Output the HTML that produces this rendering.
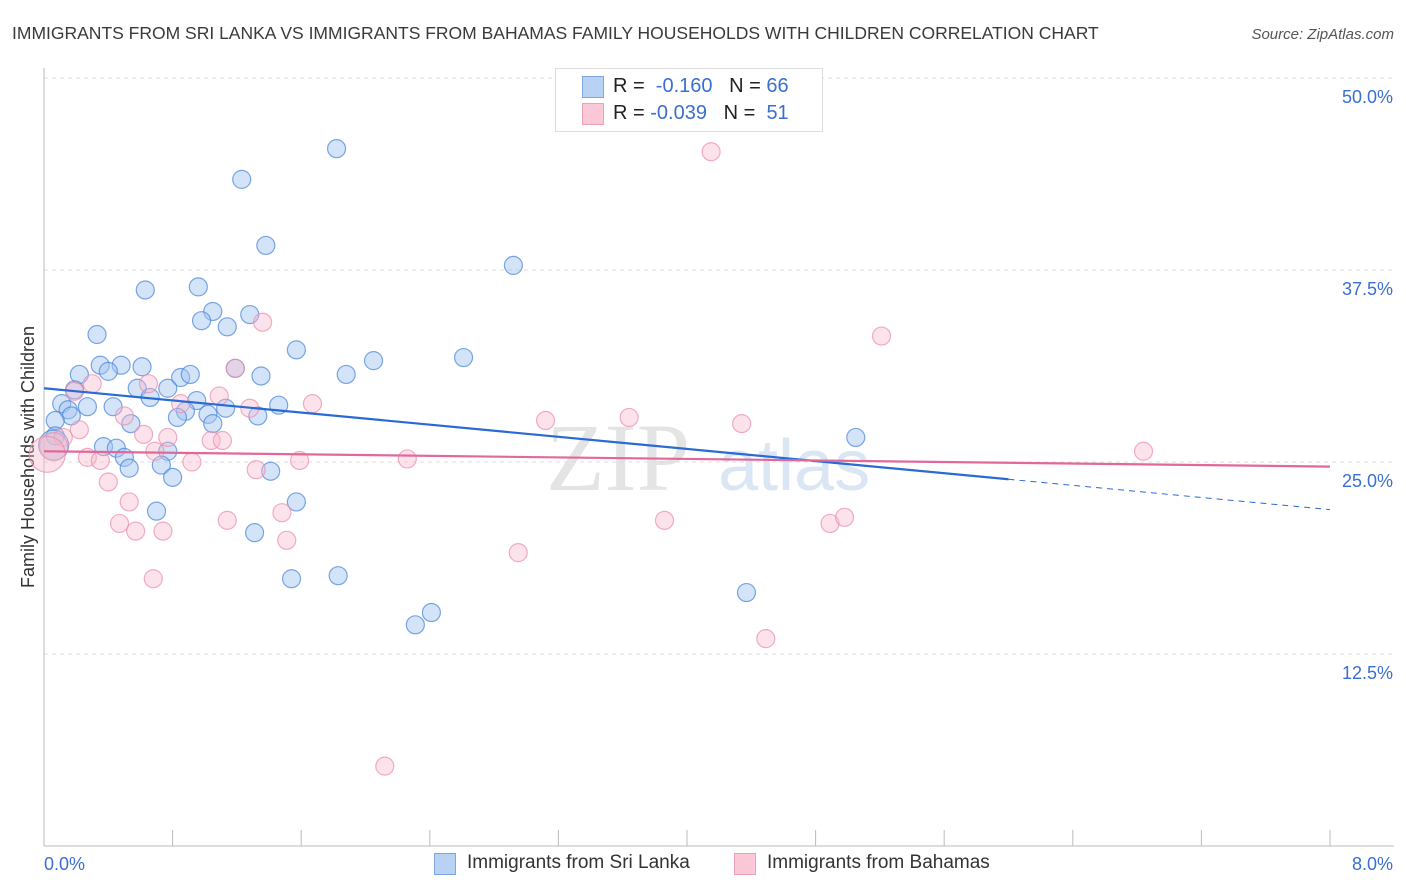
<!DOCTYPE html>
<html><head><meta charset="utf-8">
<style>
body{margin:0;background:#fff;font-family:"Liberation Sans",sans-serif;}
#wrap{position:relative;width:1406px;height:892px;overflow:hidden;}
</style></head>
<body>
<div id="wrap">
<svg id="chart" width="1406" height="892" xmlns="http://www.w3.org/2000/svg">
<text x="12" y="39" font-size="17.5" fill="#3a3a3a">IMMIGRANTS FROM SRI LANKA VS IMMIGRANTS FROM BAHAMAS FAMILY HOUSEHOLDS WITH CHILDREN CORRELATION CHART</text>
<text x="1394" y="39" font-size="15" fill="#555" font-style="italic" text-anchor="end">Source: ZipAtlas.com</text>
<text transform="translate(34,457) rotate(-90)" font-size="18" fill="#333" text-anchor="middle">Family Households with Children</text>
<text x="690" y="490" font-size="96" fill="#e4e4e4" font-family="Liberation Serif,serif" text-anchor="end">ZIP</text>
<text x="718" y="490" font-size="72" fill="#dbe6f5">atlas</text>
<g id="grid"></g><g id="axes"></g><g id="pts"></g><g id="lines"></g>
</svg>
<div style="position:absolute;left:555px;top:68px;width:266px;height:62px;border:1px solid #ddd;background:#fff;font-size:20px;">
 <div style="position:absolute;left:26px;top:7px;width:20px;height:20px;background:#b8d2f4;border:1px solid #7ea6e0"></div>
 <div style="position:absolute;left:57px;top:6px;color:#222">R = &nbsp;<span style="color:#3a6fd1">-0.160</span> &nbsp;&nbsp;N = <span style="color:#3a6fd1">66</span></div>
 <div style="position:absolute;left:26px;top:34px;width:20px;height:20px;background:#fac8d6;border:1px solid #eea0b8"></div>
 <div style="position:absolute;left:57px;top:33px;color:#222">R = <span style="color:#3a6fd1">-0.039</span> &nbsp;&nbsp;N = &nbsp;<span style="color:#3a6fd1">51</span></div>
</div>
<div style="position:absolute;left:434px;top:853px;width:20px;height:20px;background:#b8d2f4;border:1px solid #7ea6e0"></div>
<div style="position:absolute;left:467px;top:852px;font-size:19px;color:#333">Immigrants from Sri Lanka</div>
<div style="position:absolute;left:734px;top:853px;width:20px;height:20px;background:#fac8d6;border:1px solid #eea0b8"></div>
<div style="position:absolute;left:767px;top:852px;font-size:19px;color:#333">Immigrants from Bahamas</div>
</div>
<script>
const yTicks=[12.5,25,37.5,50];
const yTickLabels=["12.5%","25.0%","37.5%","50.0%"];
const xTickLabels=["0.0%","8.0%"];
const blueX=[1.82,1.23,1.38,2.92,0.63,0.96,1.05,0.98,1.14,1.28,0.33,1.57,2.05,2.61,0.35,0.48,0.61,0.40,0.22,0.85,0.91,1.19,1.35,1.88,0.58,0.77,0.66,0.19,0.11,0.15,0.27,0.43,0.95,0.88,1.02,1.13,1.46,1.33,0.83,1.05,0.54,0.17,0.07,0.07,0.06,0.37,0.45,0.50,0.77,0.73,0.53,0.80,1.41,5.05,0.70,1.57,1.31,1.54,1.83,4.37,2.41,2.31];
const blueY=[45.4,43.4,39.1,37.8,36.2,36.4,34.8,34.2,33.8,34.6,33.3,32.3,31.6,31.8,31.3,31.3,31.2,30.9,30.7,30.5,30.7,31.1,30.6,30.7,29.8,29.8,29.2,29.7,28.8,28.4,28.6,28.6,29.0,28.3,28.1,28.5,28.7,28.0,27.9,27.5,27.5,28.0,27.7,26.7,26.1,26.0,25.9,25.3,25.7,24.8,24.6,24.0,24.4,26.6,21.8,22.4,20.4,17.4,17.6,16.5,15.2,14.4];
const blueR=[9,9,9,9,9,9,9,9,9,9,9,9,9,9,9,9,9,9,9,9,9,9,9,9,9,9,9,9,9,9,9,9,9,9,9,9,9,9,9,9,9,9,9,9,15,9,9,9,9,9,9,9,9,9,9,9,9,9,9,9,9,9];
const pinkX=[4.15,5.21,1.36,1.19,0.65,0.30,0.19,1.09,0.85,1.67,1.28,3.12,3.64,4.34,0.50,0.22,0.62,0.77,1.04,1.11,0.12,0.06,0.02,0.27,0.35,0.69,0.92,1.59,2.26,6.84,0.40,1.32,0.53,1.48,1.14,0.47,0.57,0.74,1.51,3.86,4.89,4.98,2.95,0.68,4.49,2.12];
const pinkY=[45.2,33.2,34.1,31.1,30.1,30.1,29.6,29.3,28.8,28.8,28.5,27.7,27.9,27.5,28.0,27.1,26.8,26.6,26.4,26.4,26.6,26.0,25.5,25.3,25.1,25.7,25.0,25.1,25.2,25.7,23.7,24.5,22.4,21.7,21.2,21.0,20.5,20.5,19.9,21.2,21.0,21.4,19.1,17.4,13.5,5.2];
const pinkR=[9,9,9,9,9,9,9,9,9,9,9,9,9,9,9,9,9,9,9,9,9,14,18,9,9,9,9,9,9,9,9,9,9,9,9,9,9,9,9,9,9,9,9,9,9,9];
const blueLine=[29.8,21.9]; // y at x=0 and x=8
const blueSolidEnd=6.0;
const pinkLine=[25.7,24.7];
const NS="http://www.w3.org/2000/svg";
const X0=44,X1=1330,Y0=846,Y50=78;
function sx(v){return X0+(v/8)*(X1-X0);}
function sy(v){return Y0-(v/50)*(Y0-Y50);}
function mk(tag,attrs,parent){const e=document.createElementNS(NS,tag);for(const k in attrs)e.setAttribute(k,attrs[k]);parent.appendChild(e);return e;}
const grid=document.getElementById('grid'),axes=document.getElementById('axes'),pts=document.getElementById('pts'),lines=document.getElementById('lines');
yTicks.forEach((t,i)=>{
 const l=mk('line',{x1:X0,x2:1394,y1:sy(t),y2:sy(t),stroke:'#ddd','stroke-dasharray':'4,4'},grid);
 
 
 const tx=mk('text',{x:1393,y:sy(t)+25,'font-size':18,fill:'#3a6fd1','text-anchor':'end'},axes);
 tx.textContent=yTickLabels[i];
 
 
});
const ya=mk('line',{x1:X0,x2:X0,y1:68,y2:846,stroke:'#bbb'},axes);


const xa=mk('line',{x1:X0,x2:1394,y1:846,y2:846,stroke:'#bbb'},axes);


for(let i=0;i<=10;i++){
 const tk=mk('line',{x1:sx(i*0.8),x2:sx(i*0.8),y1:830,y2:846,stroke:'#bbb'},axes);
 
 
}
[[0,'start',X0],[1,'end',1393]].forEach(([i,a,x])=>{
 const tx=mk('text',{x:x,y:870,'font-size':18,fill:'#3a6fd1','text-anchor':a},axes);
 tx.textContent=xTickLabels[i];
 
 
});
blueX.forEach((v,i)=>{
 const c=mk('circle',{cx:sx(v),cy:sy(blueY[i]),r:blueR[i],fill:'rgba(160,195,240,0.45)',stroke:'rgba(70,130,215,0.7)','stroke-width':1.2},pts);
 
 
});
pinkX.forEach((v,i)=>{
 const c=mk('circle',{cx:sx(v),cy:sy(pinkY[i]),r:pinkR[i],fill:'rgba(248,185,205,0.4)',stroke:'rgba(235,140,170,0.7)','stroke-width':1.2},pts);
 
 
});
function ly(line,x){return line[0]+(line[1]-line[0])*x/8;}
const b1=mk('line',{x1:sx(0),y1:sy(blueLine[0]),x2:sx(blueSolidEnd),y2:sy(ly(blueLine,blueSolidEnd)),stroke:'#2a6ad4','stroke-width':2.2},lines);


const b2=mk('line',{x1:sx(blueSolidEnd),y1:sy(ly(blueLine,blueSolidEnd)),x2:sx(8),y2:sy(blueLine[1]),stroke:'#2a6ad4','stroke-width':1,'stroke-dasharray':'6,5'},lines);


const p1=mk('line',{x1:sx(0),y1:sy(pinkLine[0]),x2:sx(8),y2:sy(pinkLine[1]),stroke:'#e2689a','stroke-width':2.2},lines);


</script>
</body></html>
